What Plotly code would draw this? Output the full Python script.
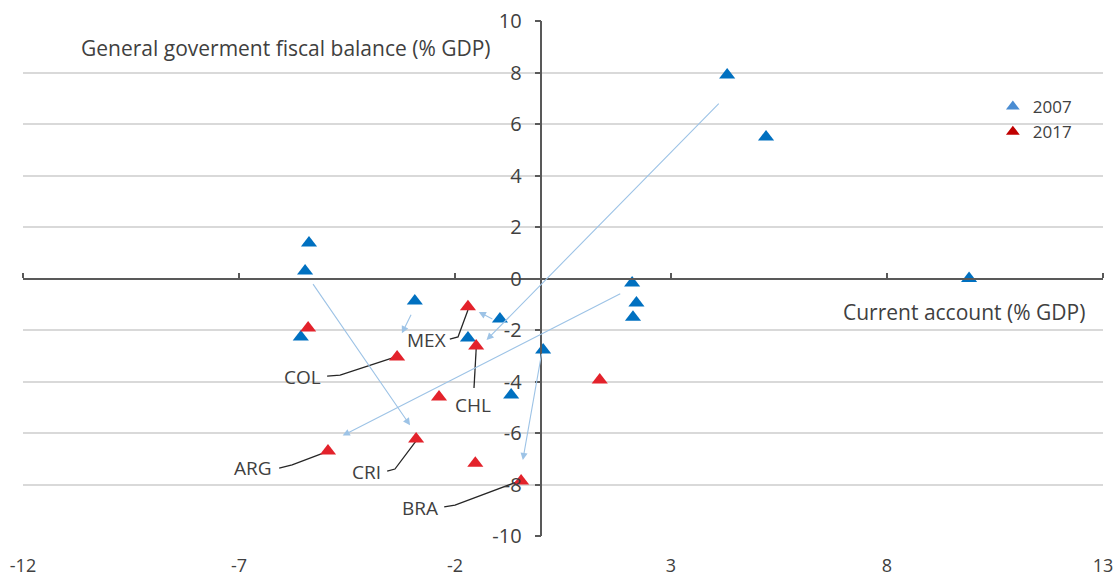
import plotly.graph_objects as go

# ---- data ----
ca_2007 = [4.3, 5.2, 9.9, -5.38, -5.47, -5.57, -2.93, -0.96, -1.70, 2.10, 2.20, 2.12, 0.04, -0.70]
fb_2007 = [7.9, 5.5, 0.0, 1.38, 0.29, -2.27, -0.87, -1.57, -2.31, -0.17, -0.95, -1.50, -2.78, -4.52]

ca_2017 = [-5.40, -1.70, -3.34, -1.51, -2.37, 1.35, -2.90, -4.94, -1.53, -0.47]
fb_2017 = [-1.92, -1.10, -3.05, -2.62, -4.60, -3.94, -6.23, -6.70, -7.17, -7.86]

# arrows (tail -> head)
arrow_from_x = [4.14, 1.86, -5.31, -3.00, -1.10, 0.01]
arrow_from_y = [6.85, -0.56, -0.16, -1.35, -1.60, -2.87]
arrow_to_x = [-1.27, -4.60, -3.04, -3.23, -1.45, -0.43]
arrow_to_y = [-2.39, -6.10, -5.70, -2.13, -1.30, -7.05]

# country labels and their leader lines
label_names = ["MEX", "COL", "CHL", "ARG", "CRI", "BRA"]
label_x = [-2.67, -5.52, -1.58, -6.68, -4.04, -2.81]
label_y = [-2.39, -3.83, -4.91, -7.36, -7.51, -8.91]
leader_x = [[-2.12, -1.93, -1.70], [-4.96, -4.66, -3.39], [-1.56, -1.51],
            [-6.07, -5.77, -4.99], [-3.57, -3.39, -2.90], [-2.25, -2.00, -0.50]]
leader_y = [[-2.35, -2.27, -1.22], [-3.79, -3.75, -3.05], [-4.25, -2.74],
            [-7.36, -7.24, -6.74], [-7.48, -7.40, -6.31], [-8.87, -8.80, -7.86]]

x_ticks = [-12, -7, -2, 3, 8, 13]
y_ticks = [-10, -8, -6, -4, -2, 0, 2, 4, 6, 8, 10]
x_ticktext = [str(v) for v in x_ticks]
y_ticktext = [str(v) for v in y_ticks]

series_names = ["2007", "2017"]

FONT = "Open Sans"
TXT = "#404040"
AXC = "#595959"

fig = go.Figure()

# leader lines
lx, ly = [], []
for xs, ys in zip(leader_x, leader_y):
    lx += xs + [None]
    ly += ys + [None]
fig.add_trace(go.Scatter(x=lx, y=ly, mode="lines", line=dict(color="#262626", width=1.3),
                         showlegend=False, hoverinfo="skip"))

fig.add_trace(go.Scatter(x=ca_2007, y=fb_2007, mode="markers", name=series_names[0],
                         marker=dict(symbol="triangle-up", size=14, color="#0070C0"),
                         showlegend=False))
fig.add_trace(go.Scatter(x=ca_2017, y=fb_2017, mode="markers", name=series_names[1],
                         marker=dict(symbol="triangle-up", size=14, color="#E3222B"),
                         showlegend=False))
# legend entries
fig.add_trace(go.Scatter(x=[None], y=[None], mode="markers", name=series_names[0],
                         marker=dict(symbol="triangle-up", size=15, color="#4A8CD2")))
fig.add_trace(go.Scatter(x=[None], y=[None], mode="markers", name=series_names[1],
                         marker=dict(symbol="triangle-up", size=15, color="#C00000")))
# invisible trace for the axis drawn through y=0
fig.add_trace(go.Scatter(x=[None], y=[None], xaxis="x2", showlegend=False, hoverinfo="skip"))

annotations = []
for x0, y0, x1, y1 in zip(arrow_from_x, arrow_from_y, arrow_to_x, arrow_to_y):
    annotations.append(dict(x=x1, y=y1, ax=x0, ay=y0, xref="x", yref="y", axref="x", ayref="y",
                            text="", showarrow=True, arrowhead=2, arrowsize=1.3, arrowwidth=1.1,
                            arrowcolor="#9DC3E6", standoff=0, startstandoff=0))
for name, x0, y0 in zip(label_names, label_x, label_y):
    annotations.append(dict(x=x0, y=y0, xref="x", yref="y", text=name, showarrow=False,
                            font=dict(family=FONT, size=19, color=TXT)))
annotations.append(dict(x=-1.12, y=8.95, xref="x", yref="y", xanchor="right",
                        text="General goverment fiscal balance (% GDP)", showarrow=False,
                        font=dict(family=FONT, size=21, color=TXT)))
annotations.append(dict(x=12.63, y=-1.30, xref="x", yref="y", xanchor="right",
                        text="Current account (% GDP)", showarrow=False,
                        font=dict(family=FONT, size=21, color=TXT)))

fig.update_layout(
    width=1117, height=577,
    margin=dict(l=23, r=14, t=21, b=41),
    paper_bgcolor="white", plot_bgcolor="white",
    font=dict(family=FONT, size=17, color=TXT),
    annotations=annotations,
    legend=dict(x=0.898, y=0.868, xanchor="left", yanchor="top", bgcolor="rgba(0,0,0,0)",
                font=dict(family=FONT, size=17, color=TXT), tracegroupgap=0, itemsizing="constant"),
    xaxis=dict(range=[-12, 13], tickvals=x_ticks, ticktext=x_ticktext, showgrid=False,
               zeroline=False, showline=False, ticks="outside", ticklen=13,
               tickcolor="rgba(0,0,0,0)", tickfont=dict(family=FONT, size=18, color=TXT),
               automargin=False),
    xaxis2=dict(range=[-12, 13], overlaying="x", anchor="free", position=0.5, side="top",
                tickvals=x_ticks, showticklabels=False, showgrid=False, zeroline=False,
                showline=True, linecolor=AXC, linewidth=2, ticks="outside", ticklen=5,
                tickwidth=2, tickcolor=AXC),
    yaxis=dict(range=[-10, 10], tickvals=y_ticks, ticktext=y_ticktext, anchor="free",
               position=0.48, showgrid=True, gridcolor="#D9D9D9", gridwidth=2, zeroline=False,
               showline=True, linecolor=AXC, linewidth=1.5, ticks="outside", ticklen=6,
               tickcolor=AXC, tickwidth=1.5, ticklabelstandoff=9,
               tickfont=dict(family=FONT, size=20, color=TXT), automargin=False),
)

fig.write_html("out.html", config={"displayModeBar": False},
               post_script="document.body.style.margin='0';")
